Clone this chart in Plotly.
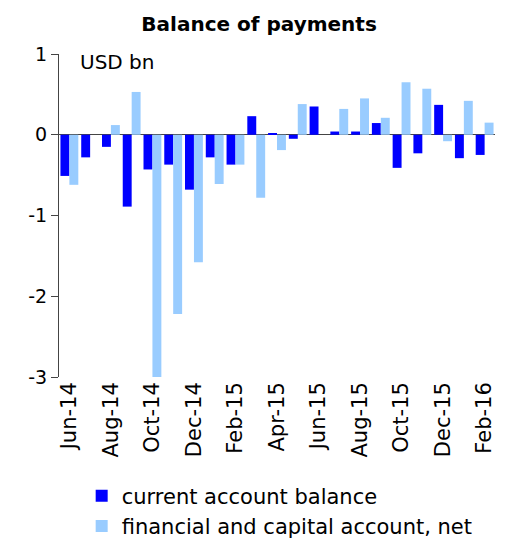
import plotly.graph_objects as go

months = ["Jun-14", "Jul-14", "Aug-14", "Sep-14", "Oct-14", "Nov-14", "Dec-14",
          "Jan-15", "Feb-15", "Mar-15", "Apr-15", "May-15", "Jun-15", "Jul-15",
          "Aug-15", "Sep-15", "Oct-15", "Nov-15", "Dec-15", "Jan-16", "Feb-16"]
current_account = [-0.51, -0.28, -0.15, -0.89, -0.43, -0.37, -0.68,
                   -0.28, -0.37, 0.23, 0.02, -0.05, 0.35, 0.04,
                   0.04, 0.145, -0.41, -0.23, 0.37, -0.29, -0.25]
financial_capital = [-0.62, 0.0, 0.12, 0.53, -3.1, -2.22, -1.58,
                     -0.61, -0.37, -0.78, -0.19, 0.38, 0.0, 0.32,
                     0.45, 0.21, 0.65, 0.57, -0.08, 0.42, 0.15]
x_ticks = months[::2]
y_ticks = [1, 0, -1, -2, -3]
y_ticktext = ["1", "0", "-1", "-2", "-3"]

font = "DejaVu Sans, Verdana, sans-serif"

fig = go.Figure()
fig.add_trace(go.Bar(x=months, y=current_account, name="current account balance",
                     marker_color="#0000FF", marker_line_width=0))
fig.add_trace(go.Bar(x=months, y=financial_capital, name="financial and capital account, net",
                     marker_color="#99CCFF", marker_line_width=0))

fig.update_layout(
    width=508, height=540,
    barmode="group", bargap=0.14, bargroupgap=0,
    plot_bgcolor="white", paper_bgcolor="white",
    font=dict(family=font, size=19, color="#000"),
    margin=dict(l=59, r=13, t=54, b=163, autoexpand=False),
    title=dict(text="<b>Balance of payments</b>", x=0.51, xanchor="center",
               y=0.955, yanchor="middle", font=dict(size=20, family=font)),
    showlegend=True,
    legend=dict(orientation="v", x=0.052, xanchor="left", y=-0.305, yanchor="top",
                font=dict(size=21, family=font), itemwidth=30,
                traceorder="normal"),
    annotations=[dict(text="USD bn", xref="paper", yref="paper", x=0.044, y=0.975,
                      xanchor="left", yanchor="middle", showarrow=False,
                      font=dict(size=20, family=font))],
)
fig.update_xaxes(type="category", tickvals=x_ticks, ticktext=x_ticks, tickangle=-90,
                 showgrid=False, showline=False, ticks="", tickfont=dict(size=21),
                 automargin=False)
fig.update_yaxes(range=[-3, 1], tickvals=y_ticks, ticktext=y_ticktext, showgrid=False,
                 showline=True, linecolor="#444", linewidth=1.2, ticks="outside",
                 ticklen=7, tickcolor="#444", zeroline=True, zerolinecolor="#444",
                 zerolinewidth=1.2, tickfont=dict(size=19), automargin=False)

fig.write_html("out.html")
